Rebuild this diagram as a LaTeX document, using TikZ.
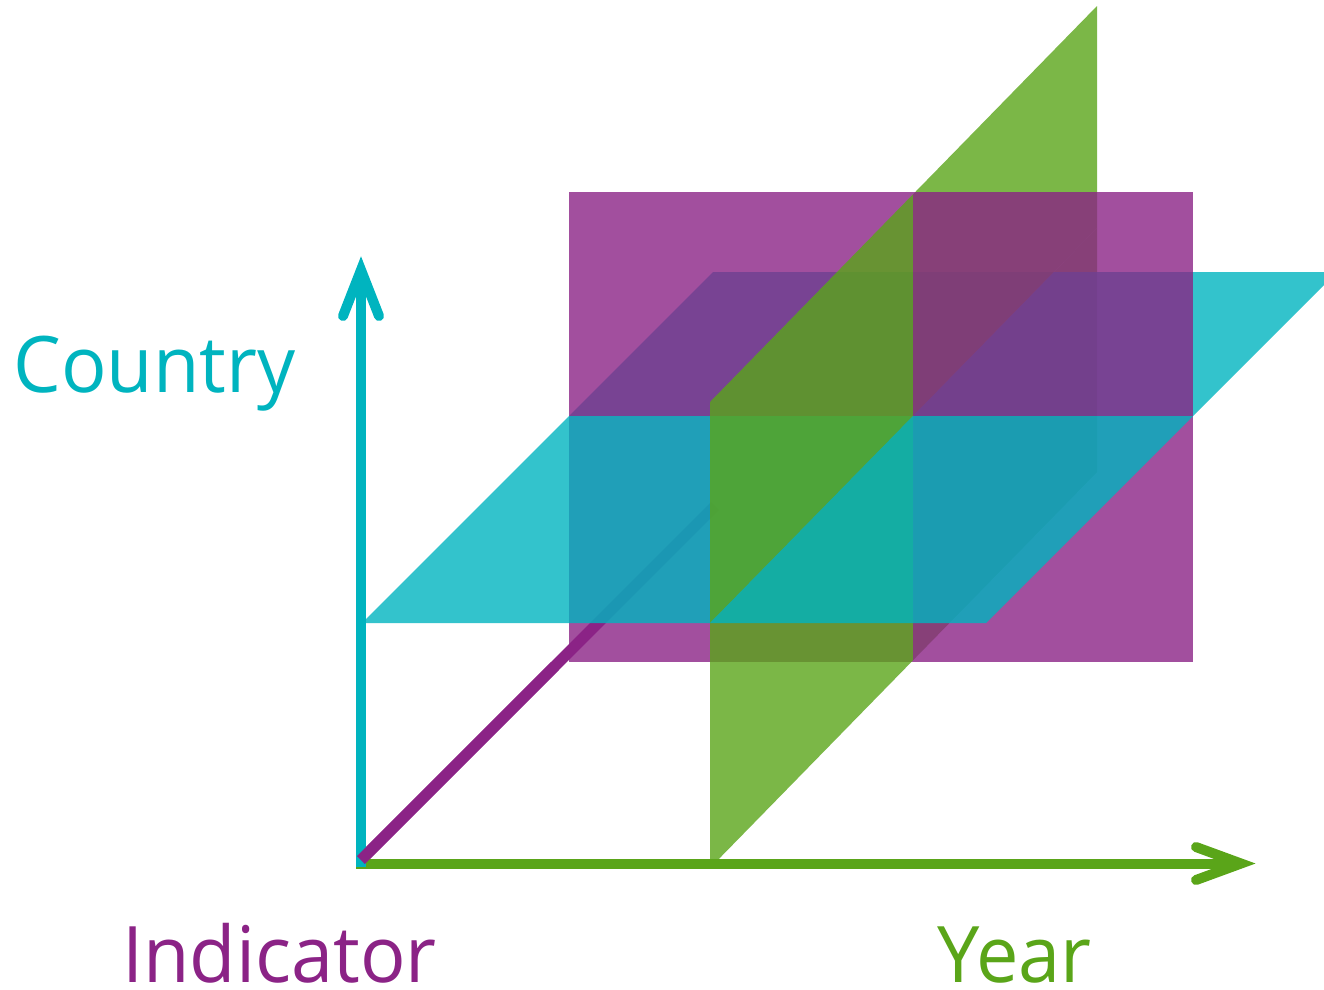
\documentclass[tikz,border=0pt]{standalone}
\usepackage{fontspec}
\setmainfont{Open Sans}[FakeStretch=0.97]
\definecolor{purpC}{HTML}{8B2386}
\definecolor{cyanC}{HTML}{00B4BF}
\definecolor{greenC}{HTML}{5AA519}
\begin{document}
\begin{tikzpicture}[x=1pt,y=-1pt,
  plane/.style={draw=none,fill opacity=0.8},
  pplane/.style={plane,fill=purpC},
  cplane/.style={plane,fill=cyanC},
  gplane/.style={plane,fill=greenC},
  axisline/.style={line width=10pt,line cap=butt},
  barb/.style={line width=10pt,line cap=round,line join=miter},
  lab/.style={anchor=base,inner sep=0pt,text depth=0pt,font=\fontsize{78}{90}\selectfont}]
\path[use as bounding box] (0,0) rectangle (1324,989);
\clip (0,0) rectangle (1324,989);

% coordinates
\coordinate (O) at (361,862);
\coordinate (Ind0) at (361,860);
\coordinate (IndMid) at (555,666);
\coordinate (IndEnd) at (715,506);
\coordinate (CtyTop) at (361,270);
\coordinate (CtyL) at (343,316);
\coordinate (CtyR) at (379,316);
\coordinate (YrStart) at (356,863.5);
\coordinate (YrTop) at (1241,863.5);
\coordinate (YrU) at (1196,847);
\coordinate (YrD) at (1196,880);

% indicator axis (behind planes)
\draw[axisline,line width=11pt,draw=purpC] (Ind0) -- (IndEnd);

% farthest pieces
\fill[gplane] (913,416) -- (1097,228) -- (1097,472) -- (913,660.3) -- cycle;
\fill[cplane] (569,416) -- (913,416) -- (1054,272) -- (713,272) -- cycle;
\fill[pplane] (569,416) rectangle (913,662);

% middle pieces
\fill[gplane] (710,868) -- (710,623) -- (913,416) -- (913,660.3) -- cycle;
\fill[gplane] (913,194.3) -- (1097,6) -- (1097,228) -- (913,416) -- cycle;
\fill[cplane] (362,623) -- (710,623) -- (913,416) -- (569,416) -- cycle;
\fill[cplane] (913,416) -- (1193,416) -- (1337,272) -- (1054,272) -- cycle;
\fill[pplane] (569,192) rectangle (913,416);
\fill[pplane] (913,416) rectangle (1193,662);

% nearest pieces
\fill[gplane] (710,623) -- (710,402) -- (913,194.3) -- (913,416) -- cycle;
\fill[cplane] (710,623) -- (986,623) -- (1193,416) -- (913,416) -- cycle;
\fill[pplane] (913,192) rectangle (1193,416);

% year axis
\draw[axisline,draw=greenC] (YrStart) -- (YrTop);
\draw[barb,draw=greenC] (YrU) -- (YrTop) -- (YrD);
% country axis
\draw[axisline,draw=cyanC] (361,867) -- (CtyTop);
\draw[barb,draw=cyanC] (CtyL) -- (CtyTop) -- (CtyR);
% indicator axis visible part
\draw[axisline,line width=11pt,draw=purpC] (Ind0) -- (IndMid);

% labels
\node[lab,text=cyanC] (country) at (154.5,392) {Country};
\node[lab,text=purpC] (indicator) at (279.5,982) {Indicator};
\node[lab,text=greenC] (year) at (1014.5,982) {Year};
\end{tikzpicture}
\end{document}
